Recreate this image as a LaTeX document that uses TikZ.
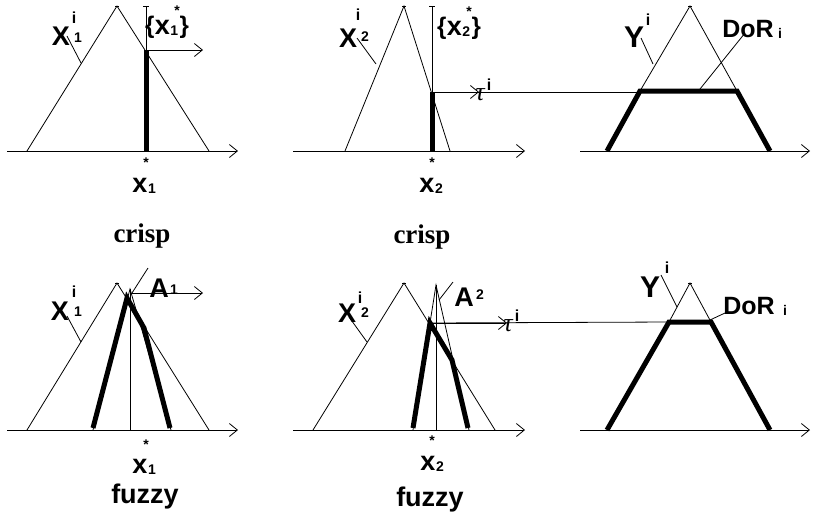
\documentclass[tikz,border=0pt]{standalone}
\usepackage{fontspec}
\setmainfont{Liberation Sans}
\newfontfamily\serifbold{Liberation Serif}
\usetikzlibrary{arrows.meta}
\begin{document}
\begin{tikzpicture}[x=1pt,y=-1pt,
  thinln/.style={line width=0.8pt},
  thickln/.style={line width=5pt,line join=miter},
  axisln/.style={line width=0.8pt,-{Straight Barb[length=8pt,width=13pt]}},
  barb/.style={line width=0.8pt,-{Straight Barb[length=8pt,width=13pt]}},
  topbar/.style={line width=0.8pt,{Bar[width=6pt]}-},
  lbl/.style={inner sep=0pt,font=\fontsize{27}{27}\selectfont\bfseries},
  ylbl/.style={inner sep=0pt,font=\fontsize{30}{30}\selectfont\bfseries},
  albl/.style={inner sep=0pt,font=\fontsize{27}{27}\selectfont\bfseries},
  dlbl/.style={inner sep=0pt,font=\fontsize{25}{25}\selectfont\bfseries},
  brc/.style={inner sep=0pt,font=\fontsize{24}{24}\selectfont\bfseries},
  val/.style={inner sep=0pt,font=\fontsize{27}{27}\selectfont\bfseries},
  idx/.style={inner sep=0pt,font=\fontsize{14}{14}\selectfont\bfseries},
  sup/.style={inner sep=0pt,font=\fontsize{16}{16}\selectfont\bfseries},
  star/.style={inner sep=0pt,font=\fontsize{14}{14}\selectfont\bfseries},
  crispw/.style={inner sep=0pt,font=\fontsize{27}{27}\selectfont\serifbold\bfseries},
  fuzzyw/.style={inner sep=0pt,font=\fontsize{27}{27}\selectfont\bfseries},
  tauw/.style={inner sep=0pt,font=\fontsize{26}{26}\selectfont\serifbold\itshape},
]
\useasboundingbox (0,0) rectangle (813,523);

% ================= Row 1, panel 1 =================
\coordinate (a1s) at (7,151);   \coordinate (a1e) at (238,151);
\coordinate (t1l) at (27,151);  \coordinate (t1a) at (117,6); \coordinate (t1r) at (209,151);
\coordinate (v1b) at (146,151); \coordinate (v1t) at (146,6); \coordinate (v1m) at (146,50);
\coordinate (h1e) at (203,50);
\draw[axisln] (a1s) -- (a1e);
\draw[thinln] (t1l) -- (t1a) -- (t1r);
\draw[thinln] ([xshift=-2pt]t1a) -- ([xshift=2pt]t1a);
\draw[topbar] (v1t) -- (v1b);
\draw[thickln] (v1b) -- (v1m);
\draw[barb] (v1m) -- (h1e);
\node[lbl] (X1a) at (61,36) {X};
\node[sup] (X1ai) at (74,18) {i};
\node[idx] (X1a1) at (78,38) {1};
\coordinate (X1ap) at (81,63);
\draw[thinln] (67,36) -- (X1ap);
\node[brc,anchor=west] (set1l) at (145,27) {\{};
\node[lbl,anchor=west] (set1x) at (set1l.east) {x};
\node[idx,anchor=west] (set1i) at ([yshift=-4pt]set1x.east) {1};
\node[star] (set1s) at (177,11) {*};
\node[brc,anchor=west] (set1r) at ([xshift=1pt]set1i.east |- set1l.west) {\}};
\node[val] (x1a) at (140,185) {x};
\node[idx] (x1ai) at (152,189) {1};
\node[star] (x1as) at (146,163) {*};
\node[crispw] (cr1) at (142,236) {crisp};

% ================= Row 1, panel 2 =================
\coordinate (a2s) at (293,151); \coordinate (a2e) at (525,151);
\coordinate (t2l) at (345,151); \coordinate (t2a) at (404,6); \coordinate (t2r) at (450,151);
\coordinate (v2b) at (432,151); \coordinate (v2t) at (432,6); \coordinate (v2m) at (432,92);
\coordinate (tau1tip) at (479,92); \coordinate (tau1e) at (640,92);
\draw[axisln] (a2s) -- (a2e);
\draw[thinln] (t2l) -- (t2a) -- (t2r);
\draw[thinln] ([xshift=-2pt]t2a) -- ([xshift=2pt]t2a);
\draw[topbar] (v2t) -- (v2b);
\draw[thickln] (v2b) -- (v2m);
\draw[thinln] (v2m) -- (tau1e);
\draw[barb] (v2m) -- (tau1tip);
\node[tauw] (tau1) at (480,95) {τ};
\node[sup] (tau1i) at (489,85) {i};
\node[lbl] (X2a) at (348,38) {X};
\node[sup] (X2ai) at (358,15) {i};
\node[idx] (X2a2) at (365,37) {2};
\draw[thinln] (357,38) -- (376,64);
\node[brc,anchor=west] (set2l) at (437,28) {\{};
\node[lbl,anchor=west] (set2x) at (set2l.east) {x};
\node[idx,anchor=west] (set2i) at ([yshift=-4pt]set2x.east) {2};
\node[star] (set2s) at (469,12) {*};
\node[brc,anchor=west] (set2r) at ([xshift=1pt]set2i.east |- set2l.west) {\}};
\node[val] (x2a) at (427,185) {x};
\node[idx] (x2ai) at (439,189) {2};
\node[star] (x2as) at (432,163) {*};
\node[crispw] (cr2) at (422,237) {crisp};

% ================= Row 1, panel 3 =================
\coordinate (a3s) at (580,151); \coordinate (a3e) at (810,151);
\coordinate (y1a) at (690,6); \coordinate (y1l) at (640,91); \coordinate (y1r) at (737,91);
\coordinate (y1bl) at (607,151); \coordinate (y1br) at (770,151);
\draw[axisln] (a3s) -- (a3e);
\draw[thinln] (y1l) -- (y1a) -- (y1r);
\draw[thinln] ([xshift=-2pt]y1a) -- ([xshift=2pt]y1a);
\draw[thickln] (y1bl) -- (y1l) -- (y1r) -- (y1br);
\node[ylbl] (Y1) at (634,37) {Y};
\node[sup] (Y1i) at (648,20) {i};
\draw[thinln] (641,38) -- (653,64);
\node[dlbl] (D1) at (748,29) {DoR};
\node[idx] (D1i) at (780,33) {i};
\draw[thinln] (745,33) -- (700,89);

% ================= Row 2, panel 1 =================
\coordinate (b1s) at (7,430);   \coordinate (b1e) at (238,430);
\coordinate (u1l) at (27,430);  \coordinate (u1a) at (117,283); \coordinate (u1r) at (209,430);
\coordinate (w1b) at (130,430); \coordinate (w1t) at (130,289);
\coordinate (A1l) at (93,430);  \coordinate (A1r) at (171,430);
\coordinate (k1a) at (93,428); \coordinate (k1b) at (127,298); \coordinate (k1c) at (144,328); \coordinate (k1d) at (170,428);
\coordinate (g1s) at (130,293); \coordinate (g1e) at (203,293);
\draw[axisln] (b1s) -- (b1e);
\draw[thinln] (u1l) -- (u1a) -- (u1r);
\draw[thinln] ([xshift=-2pt]u1a) -- ([xshift=2pt]u1a);
\draw[thinln] (w1t) -- (w1b);
\draw[thinln] (A1l) -- (w1t) -- (A1r);
\draw[thickln] (k1a) -- (k1b) -- (k1c) -- (k1d);
\draw[barb] (g1s) -- (g1e);
\node[albl] (A1) at (159,288) {A};
\node[idx] (A1i) at (174,290) {1};
\draw[thinln] (132,293) -- (148,268);
\node[lbl] (X1b) at (60,311) {X};
\node[sup] (X1bi) at (74,292) {i};
\node[idx] (X1b1) at (78,312) {1};
\draw[thinln] (67,316) -- (81,342);
\node[val] (x1b) at (140,466) {x};
\node[idx] (x1bi) at (152,470) {1};
\node[star] (x1bs) at (146,445) {*};
\node[fuzzyw] (fz1) at (145,497) {fuzzy};

% ================= Row 2, panel 2 =================
\coordinate (b2s) at (293,430); \coordinate (b2e) at (525,430);
\coordinate (u2l) at (313,430); \coordinate (u2a) at (404,283); \coordinate (u2r) at (495,430);
\coordinate (w2b) at (436,430); \coordinate (w2t) at (436,285);
\coordinate (A2l) at (413,430); \coordinate (A2r) at (469,430);
\coordinate (k2a) at (413,428); \coordinate (k2b) at (430,323); \coordinate (k2c) at (452,360); \coordinate (k2d) at (468,428);
\coordinate (tau2tip) at (507,323); \coordinate (tau2e) at (669,322);
\draw[axisln] (b2s) -- (b2e);
\draw[thinln] (u2l) -- (u2a) -- (u2r);
\draw[thinln] ([xshift=-2pt]u2a) -- ([xshift=2pt]u2a);
\draw[thinln] (w2t) -- (w2b);
\draw[thinln] (A2l) -- (w2t) -- (A2r);
\draw[thickln] (k2a) -- (k2b) -- (k2c) -- (k2d);
\draw[thinln] (k2b) -- (tau2e);
\draw[barb] (k2b) -- (tau2tip);
\node[tauw] (tau2) at (508,326) {τ};
\node[sup] (tau2i) at (517,316) {i};
\node[albl] (A2) at (464,297) {A};
\node[idx] (A2i) at (480,295) {2};
\draw[thinln] (439,300) -- (453,282);
\node[lbl] (X2b) at (347,313) {X};
\node[sup] (X2bi) at (360,298) {i};
\node[idx] (X2b2) at (365,313) {2};
\draw[thinln] (349,317) -- (367,342);
\node[val] (x2b) at (428,463) {x};
\node[idx] (x2bi) at (440,467) {2};
\node[star] (x2bs) at (432,441) {*};
\node[fuzzyw] (fz2) at (430,500) {fuzzy};

% ================= Row 2, panel 3 =================
\coordinate (b3s) at (580,430); \coordinate (b3e) at (810,430);
\coordinate (y2a) at (690,283); \coordinate (y2l) at (669,322); \coordinate (y2r) at (711,322);
\coordinate (y2bl) at (607,430); \coordinate (y2br) at (770,430);
\draw[axisln] (b3s) -- (b3e);
\draw[thinln] (y2l) -- (y2a) -- (y2r);
\draw[thinln] ([xshift=-2pt]y2a) -- ([xshift=2pt]y2a);
\draw[thickln] (y2bl) -- (y2l) -- (y2r) -- (y2br);
\node[ylbl] (Y2) at (650,287) {Y};
\node[sup] (Y2i) at (667,268) {i};
\draw[thinln] (661,275) -- (677,307);
\node[dlbl] (D2) at (749,306) {DoR};
\node[idx] (D2i) at (785,310) {i};
\draw[thinln] (725,313) -- (710,320);
\end{tikzpicture}
\end{document}
